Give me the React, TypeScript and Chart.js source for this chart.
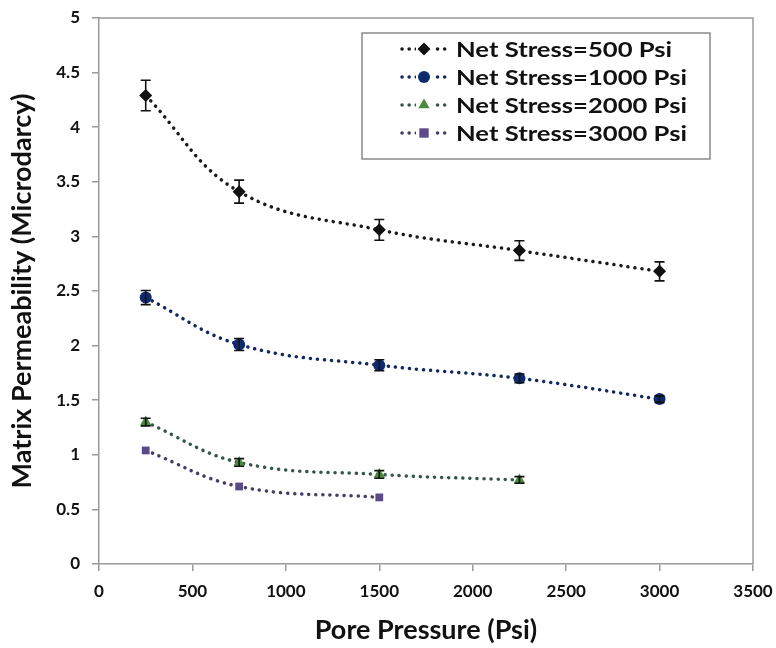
import React, { useEffect, useRef } from "react";
import { Chart, registerables } from "chart.js";

Chart.register(...registerables);

const porePressure = [250, 750, 1500, 2250, 3000];
const seriesLabels = [
  "Net Stress=500 Psi",
  "Net Stress=1000 Psi",
  "Net Stress=2000 Psi",
  "Net Stress=3000 Psi",
];
const perm500 = [4.29, 3.41, 3.06, 2.87, 2.68];
const err500 = [0.14, 0.105, 0.095, 0.09, 0.087];
const perm1000 = [2.44, 2.01, 1.82, 1.7, 1.51];
const err1000 = [0.065, 0.055, 0.05, 0.04, 0.03];
const perm2000 = [1.3, 0.93, 0.82, 0.77];
const err2000 = [0.035, 0.035, 0.035, 0.03];
const perm3000 = [1.04, 0.71, 0.61];
const err3000 = [0, 0, 0];

const lineColors = ["#1a1a1a", "#13285e", "#35574a", "#463c66"];
const markerColors = ["#111111", "#102a6e", "#4b8a3c", "#5b4a88"];
const markerStyles = ["rectRot", "circle", "triangle", "rect"];
const markerSizes = [6.5, 6, 6.5, 5.5];

const FONT = "Lato, 'Open Sans', sans-serif";

const toPoints = (vals: number[]) => vals.map((v, i) => ({ x: porePressure[i], y: v }));

function drawMarker(ctx: CanvasRenderingContext2D, style: string, x: number, y: number, r: number) {
  ctx.beginPath();
  if (style === "rectRot") {
    ctx.moveTo(x, y - r);
    ctx.lineTo(x + r, y);
    ctx.lineTo(x, y + r);
    ctx.lineTo(x - r, y);
    ctx.closePath();
  } else if (style === "circle") {
    ctx.arc(x, y, r, 0, Math.PI * 2);
  } else if (style === "triangle") {
    ctx.moveTo(x, y - r);
    ctx.lineTo(x + r * 0.87, y + r * 0.5);
    ctx.lineTo(x - r * 0.87, y + r * 0.5);
    ctx.closePath();
  } else {
    const s = r * 0.85;
    ctx.rect(x - s, y - s, 2 * s, 2 * s);
  }
  ctx.fill();
}

const errorBarPlugin = {
  id: "errorBars",
  afterDatasetsDraw(chart: any) {
    const ctx = chart.ctx;
    const xs = chart.scales.x;
    const ys = chart.scales.y;
    chart.data.datasets.forEach((ds: any) => {
      const errs: number[] = ds.errors || [];
      ctx.save();
      ctx.strokeStyle = "#111";
      ctx.lineWidth = 1.6;
      ds.data.forEach((p: any, i: number) => {
        const e = errs[i];
        if (!e) return;
        const px = xs.getPixelForValue(p.x);
        const top = ys.getPixelForValue(p.y + e);
        const bot = ys.getPixelForValue(p.y - e);
        ctx.beginPath();
        ctx.moveTo(px, top);
        ctx.lineTo(px, bot);
        ctx.moveTo(px - 5, top);
        ctx.lineTo(px + 5, top);
        ctx.moveTo(px - 5, bot);
        ctx.lineTo(px + 5, bot);
        ctx.stroke();
      });
      ctx.restore();
    });
  },
};

const frameLegendPlugin = {
  id: "frameLegend",
  afterDraw(chart: any) {
    const ctx = chart.ctx;
    const a = chart.chartArea;
    ctx.save();
    ctx.strokeStyle = "#9a9a9a";
    ctx.lineWidth = 1.5;
    ctx.beginPath();
    ctx.moveTo(a.left, a.top);
    ctx.lineTo(a.right, a.top);
    ctx.lineTo(a.right, a.bottom);
    ctx.stroke();

    const bx = 362, by = 33, bw = 348, bh = 126;
    ctx.fillStyle = "#ffffff";
    ctx.fillRect(bx, by, bw, bh);
    ctx.strokeStyle = "#8a8a8a";
    ctx.lineWidth = 1.5;
    ctx.strokeRect(bx, by, bw, bh);
    const rows = [49, 77, 105, 133];
    chart.data.datasets.forEach((ds: any, i: number) => {
      const y = rows[i];
      ctx.save();
      ctx.strokeStyle = lineColors[i];
      ctx.lineWidth = 3.5;
      ctx.lineCap = "round";
      ctx.setLineDash([0.1, 7]);
      ctx.beginPath();
      ctx.moveTo(402, y);
      ctx.lineTo(448, y);
      ctx.stroke();
      ctx.restore();
      ctx.save();
      ctx.fillStyle = "#ffffff";
      ctx.fillRect(416, y - 7, 16, 14);
      ctx.fillStyle = markerColors[i];
      drawMarker(ctx, markerStyles[i], 424, y, markerSizes[i]);
      ctx.restore();
      ctx.save();
      ctx.fillStyle = "#111";
      ctx.font = `bold 21px ${FONT}`;
      ctx.textBaseline = "middle";
      ctx.textAlign = "left";
      ctx.translate(456, y + 1);
      ctx.scale(1.22, 1);
      ctx.fillText(ds.label, 0, 0);
      ctx.restore();
    });
    ctx.restore();
  },
};

export default function App() {
  const ref = useRef<HTMLCanvasElement | null>(null);
  useEffect(() => {
    if (!ref.current) return;
    const allVals = [perm500, perm1000, perm2000, perm3000];
    const allErrs = [err500, err1000, err2000, err3000];
    const chart = new Chart(ref.current, {
      type: "line",
      data: {
        datasets: allVals.map((vals, i) => ({
          label: seriesLabels[i],
          data: toPoints(vals),
          errors: allErrs[i],
          borderColor: lineColors[i],
          backgroundColor: markerColors[i],
          pointBackgroundColor: markerColors[i],
          pointBorderColor: markerColors[i],
          pointStyle: markerStyles[i] as any,
          pointRadius: markerSizes[i],
          pointBorderWidth: 0,
          borderWidth: 3.5,
          borderDash: [0.1, 7],
          borderCapStyle: "round",
          tension: 0.4,
          fill: false,
        })) as any,
      },
      options: {
        responsive: false,
        animation: false,
        layout: { padding: { top: 18, right: 23, left: 0, bottom: 0 } },
        plugins: {
          legend: { display: false },
          tooltip: { enabled: false },
        },
        scales: {
          x: {
            type: "linear",
            min: 0,
            max: 3500,
            afterFit(s: any) {
              s.height = 84;
              s.paddingLeft = 0;
              s.paddingRight = 0;
            },
            ticks: {
              stepSize: 500,
              color: "#111",
              font: { family: FONT, size: 17, weight: "bold" },
              padding: 10,
              maxRotation: 0,
              callback: (v: any) => String(v),
            },
            grid: {
              display: true,
              drawOnChartArea: false,
              drawTicks: true,
              tickLength: 7,
              color: "#9a9a9a",
              lineWidth: 1.5,
            },
            border: { display: true, color: "#9a9a9a", width: 1.5 },
            title: {
              display: true,
              text: "Pore Pressure (Psi)",
              color: "#111",
              font: { family: FONT, size: 27, weight: "bold" },
              padding: { top: 4, bottom: 2 },
            },
          },
          y: {
            type: "linear",
            min: 0,
            max: 5,
            afterFit(s: any) {
              s.width = 99;
              s.paddingTop = 0;
              s.paddingBottom = 0;
            },
            ticks: {
              stepSize: 0.5,
              color: "#111",
              font: { family: FONT, size: 17, weight: "bold" },
              padding: 12,
              callback: (v: any) => String(v),
            },
            grid: {
              display: true,
              drawOnChartArea: false,
              drawTicks: true,
              tickLength: 7,
              color: "#9a9a9a",
              lineWidth: 1.5,
            },
            border: { display: true, color: "#9a9a9a", width: 1.5 },
            title: {
              display: true,
              text: "Matrix Permeability (Microdarcy)",
              color: "#111",
              font: { family: FONT, size: 27, weight: "bold" },
              padding: { top: 6, bottom: 4 },
            },
          },
        },
      },
      plugins: [errorBarPlugin, frameLegendPlugin],
    } as any);
    return () => chart.destroy();
  }, []);
  return (
    <div style={{ position: "absolute", left: 0, top: 0, width: 776, height: 648, background: "#fff" }}>
      <canvas ref={ref} width={776} height={648} style={{ display: "block" }} />
    </div>
  );
}
